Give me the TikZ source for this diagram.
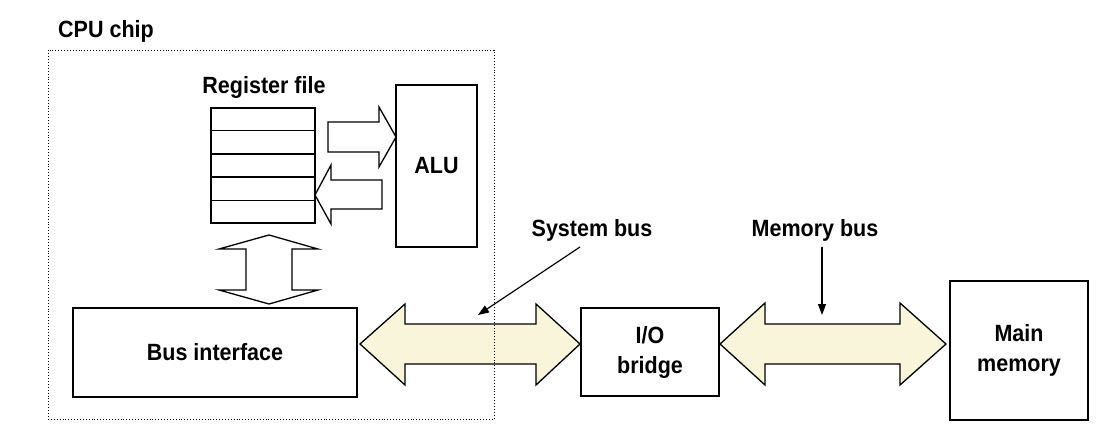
\documentclass[tikz,border=0pt]{standalone}
\usepackage{fontspec}
\setmainfont{Liberation Sans}[FakeStretch=0.915]
\usetikzlibrary{arrows.meta,calc}
\definecolor{busfill}{RGB}{248,245,218}
\begin{document}
\begin{tikzpicture}[x=1pt,y=-1pt,
  box/.style={draw,line width=1.5pt,inner sep=0pt,font=\fontsize{23.5}{30}\selectfont\bfseries},
  lbl/.style={inner sep=0pt,font=\fontsize{23.5}{30}\selectfont\bfseries},
  blk/.style={draw,line width=1.3pt,line join=miter,fill=white},
  bus/.style={blk,fill=busfill},
  ptr/.style={line width=1.2pt,-{Triangle[length=11pt,width=8pt]}},
  chipbox/.style={draw,dotted,line width=0.9pt,inner sep=0pt}]
\useasboundingbox (0,0) rectangle (1113,433);
% labels
\node[lbl,anchor=base west] (cpu) at (58,38) {CPU chip};
\node[lbl,anchor=base] (rfl) at (264,94) {Register file};
\node[lbl,anchor=base] (sysl) at (592,236) {System bus};
\node[lbl,anchor=base] (meml) at (815,236) {Memory bus};
% boxes
\node[box,minimum width=104,minimum height=115] (rf) at (263,165.5) {};
\foreach \i in {1,...,4}
  \draw[line width=1.5pt] ($(rf.north west)!\i/5!(rf.south west)$) -- ($(rf.north east)!\i/5!(rf.south east)$);
\node[box,minimum width=81,minimum height=162] (alu) at (436.5,166) {ALU};
\node[box,minimum width=284,minimum height=89] (bi) at (215,352.5) {Bus interface};
\node[box,minimum width=138,minimum height=88,align=center] (io) at (650,352) {I/O\\bridge};
\node[box,minimum width=138,minimum height=139,align=center] (mm) at (1019,350.5) {Main\\memory};
% block arrows inside the chip
\draw[blk] (328,122) -- (379,122) -- (379,107) -- (396,137) -- (379,167) -- (379,152) -- (328,152) -- cycle;
\draw[blk] (382,180) -- (331,180) -- (331,165) -- (315,195) -- (331,224) -- (331,209) -- (382,209) -- cycle;
\draw[blk] (269,235) -- (318,249) -- (292,249) -- (292,290) -- (318,290) -- (269,304) -- (219,290) -- (246,290) -- (246,249) -- (219,249) -- cycle;
% buses
\draw[bus] (360,344) -- (405,304) -- (405,324) -- (536,324) -- (536,304) -- (580,344) -- (536,385) -- (536,364) -- (405,364) -- (405,385) -- cycle;
\draw[bus] (720,344) -- (765,303) -- (765,324) -- (900,324) -- (900,303) -- (946,344) -- (900,385) -- (900,364) -- (765,364) -- (765,385) -- cycle;
% chip outline
\node[chipbox,minimum width=446,minimum height=369] (chip) at (271,234.5) {};
% pointers
\coordinate (sysA) at (580,247);
\coordinate (sysB) at (478,315);
\coordinate (memA) at (822,247);
\coordinate (memB) at (822,315);
\draw[ptr] (sysA) -- (sysB);
\draw[ptr] (memA) -- (memB);
\end{tikzpicture}
\end{document}
